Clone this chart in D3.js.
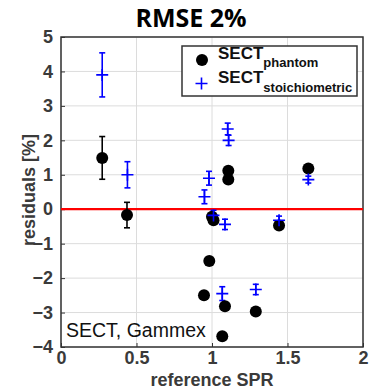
<!DOCTYPE html>
<html>
<head>
<meta charset="utf-8">
<script src="https://cdn.jsdelivr.net/npm/d3@7"></script>
<style>
  body { margin: 0; background: #fff; }
  text { font-family: "Liberation Sans", Arial, sans-serif; }
</style>
</head>
<body>
<div id="chart"></div>
<script>
const width = 370;
const height = 389;
const margin = { top: 37, right: 7, bottom: 42, left: 61 };

// SECT phantom calibration (black dots)
const phantomX = [0.273, 0.437, 1.108, 1.108, 1.0, 1.01, 0.982, 0.947, 1.086, 1.29, 1.068, 1.444, 1.638];
const phantomY = [1.49, -0.17, 1.12, 0.86, -0.22, -0.32, -1.5, -2.5, -2.82, -2.97, -3.69, -0.47, 1.18];
const phantomErr = [0.62, 0.37, 0, 0, 0, 0, 0, 0, 0, 0, 0, 0, 0];

// SECT stoichiometric calibration (blue plus)
const stoichX = [0.273, 0.44, 1.104, 1.11, 0.98, 0.95, 1.01, 1.086, 1.068, 1.29, 1.444, 1.638];
const stoichY = [3.9, 1.0, 2.33, 2.0, 0.9, 0.36, -0.18, -0.44, -2.45, -2.33, -0.32, 0.86];
const stoichErr = [0.64, 0.38, 0.17, 0.15, 0.2, 0.2, 0.15, 0.15, 0.2, 0.15, 0.12, 0.1];

const xTicks = [0, 0.5, 1, 1.5, 2];
const yTicks = [5, 4, 3, 2, 1, 0, -1, -2, -3, -4];

const phantom = phantomX.map((x, i) => ({ x: x, y: phantomY[i], e: phantomErr[i] }));
const stoich = stoichX.map((x, i) => ({ x: x, y: stoichY[i], e: stoichErr[i] }));

const innerW = width - margin.left - margin.right;
const innerH = height - margin.top - margin.bottom;

const svg = d3.select("#chart")
  .append("svg")
  .attr("width", width)
  .attr("height", height);

const x = d3.scaleLinear().domain([0, 2]).range([0, innerW]);
const y = d3.scaleLinear().domain([-4, 5]).range([innerH, 0]);

const g = svg.append("g")
  .attr("transform", "translate(" + margin.left + "," + margin.top + ")");

//grid
g.append("g").selectAll("line").data(xTicks).enter().append("line")
  .attr("x1", d => x(d)).attr("x2", d => x(d))
  .attr("y1", 0).attr("y2", innerH)
  .attr("stroke", "#dcdcdc").attr("stroke-width", 1);
g.append("g").selectAll("line").data(yTicks).enter().append("line")
  .attr("x1", 0).attr("x2", innerW)
  .attr("y1", d => y(d)).attr("y2", d => y(d))
  .attr("stroke", "#dcdcdc").attr("stroke-width", 1);

//axes
const xAxis = g.append("g")
  .attr("transform", "translate(0," + innerH + ")")
  .call(d3.axisBottom(x).tickValues(xTicks).tickSize(-4).tickPadding(3).tickFormat(d3.format("")));
const yAxis = g.append("g")
  .call(d3.axisLeft(y).tickValues(yTicks).tickSize(-4).tickPadding(8).tickFormat(d3.format("")));
[xAxis, yAxis].forEach(a => {
  a.select(".domain").remove();
  a.selectAll("line").attr("stroke", "#333");
  a.selectAll("text")
    .style("font-size", "18px")
    .style("font-weight", "bold")
    .attr("fill", "#3a3a3a");
});
xAxis.selectAll("text").attr("dy", "0.78em");

//frame
g.append("rect")
  .attr("width", innerW).attr("height", innerH)
  .attr("fill", "none").attr("stroke", "#333").attr("stroke-width", 1.5);

//zero line
g.append("line")
  .attr("x1", 0).attr("x2", innerW)
  .attr("y1", y(0)).attr("y2", y(0))
  .attr("stroke", "#f00").attr("stroke-width", 2.2);

//error bars
function errorBars(data, color) {
  const eb = g.append("g").selectAll("g").data(data.filter(d => d.e > 0)).enter().append("g")
    .attr("stroke", color).attr("stroke-width", 1.6);
  eb.append("line")
    .attr("x1", d => x(d.x)).attr("x2", d => x(d.x))
    .attr("y1", d => y(d.y + d.e)).attr("y2", d => y(d.y - d.e));
  eb.append("line")
    .attr("x1", d => x(d.x) - 3).attr("x2", d => x(d.x) + 3)
    .attr("y1", d => y(d.y + d.e)).attr("y2", d => y(d.y + d.e));
  eb.append("line")
    .attr("x1", d => x(d.x) - 3).attr("x2", d => x(d.x) + 3)
    .attr("y1", d => y(d.y - d.e)).attr("y2", d => y(d.y - d.e));
}
errorBars(phantom, "#000");
errorBars(stoich, "#0000ff");

//markers
g.append("g").selectAll("circle").data(phantom).enter().append("circle")
  .attr("cx", d => x(d.x)).attr("cy", d => y(d.y))
  .attr("r", 6).attr("fill", "#000");

g.append("g").selectAll("path").data(stoich).enter().append("path")
  .attr("d", d => "M" + (x(d.x) - 6) + "," + y(d.y) + "H" + (x(d.x) + 6) +
    "M" + x(d.x) + "," + (y(d.y) - 6) + "V" + (y(d.y) + 6))
  .attr("stroke", "#0000ff").attr("stroke-width", 1.6).attr("fill", "none");

//annotation
g.append("text")
  .attr("x", 5).attr("y", innerH - 10)
  .style("font-size", "19.5px")
  .attr("fill", "#111")
  .text("SECT, Gammex");

//legend
const legend = svg.append("g");
legend.append("rect")
  .attr("x", 182).attr("y", 46).attr("width", 175).attr("height", 50)
  .attr("fill", "#fff").attr("stroke", "#333").attr("stroke-width", 1.5);
legend.append("circle").attr("cx", 202).attr("cy", 60).attr("r", 6).attr("fill", "#000");
legend.append("path")
  .attr("d", "M195.5,83.5H207.5M201.5,77.5V89.5")
  .attr("stroke", "#0000ff").attr("stroke-width", 1.6);
const lt1 = legend.append("text").attr("x", 218).attr("y", 59).attr("fill", "#111")
  .style("font-weight", "bold");
lt1.append("tspan").style("font-size", "17px").text("SECT");
lt1.append("tspan").style("font-size", "13px").attr("dy", 8).text("phantom");
const lt2 = legend.append("text").attr("x", 218).attr("y", 83).attr("fill", "#111")
  .style("font-weight", "bold");
lt2.append("tspan").style("font-size", "17px").text("SECT");
lt2.append("tspan").style("font-size", "13px").attr("dy", 9).text("stoichiometric");

//title and axis labels
svg.append("text")
  .attr("x", 191).attr("y", 27)
  .attr("text-anchor", "middle")
  .style("font-family", "'Open Sans', sans-serif")
  .style("font-size", "25px").style("font-weight", "bold")
  .text("RMSE 2%");

svg.append("text")
  .attr("x", margin.left + innerW / 2).attr("y", 386)
  .attr("text-anchor", "middle")
  .style("font-size", "18px").style("font-weight", "bold")
  .attr("fill", "#3a3a3a")
  .text("reference SPR");

svg.append("text")
  .attr("transform", "translate(35,190) rotate(-90)")
  .attr("text-anchor", "middle")
  .style("font-size", "18px").style("font-weight", "bold")
  .attr("fill", "#3a3a3a")
  .text("residuals [%]");
</script>
</body>
</html>
